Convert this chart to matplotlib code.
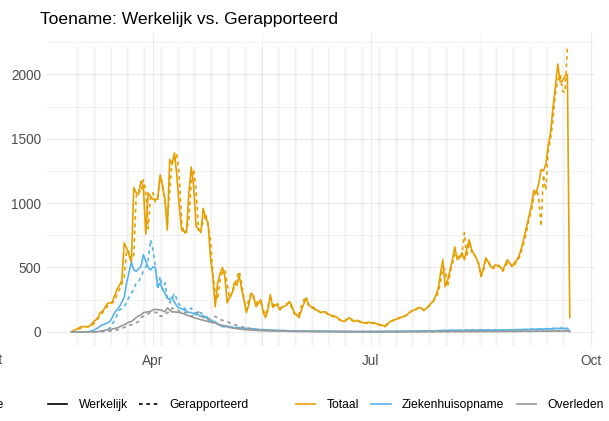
import pandas as pd
import matplotlib
matplotlib.use('Agg')
import matplotlib.pyplot as plt
from matplotlib.lines import Line2D

plt.rcParams['font.family'] = ['Liberation Sans', 'DejaVu Sans']

# daily values from 2020-02-27
start = '2020-02-27'

totaal_werkelijk = [
    2, 10, 20, 30, 40, 40, 40,
    40, 50, 75, 90, 110, 150, 160,
    190, 220, 225, 230, 280, 330, 360,
    400, 690, 650, 600, 540, 1120, 1080,
    1070, 1170, 1130, 760, 1080, 1050, 1030,
    1030, 1030, 1220, 1130, 1030, 790, 1340,
    1300, 1390, 1210, 970, 790, 780, 770,
    1080, 1280, 1130, 820, 800, 770, 960,
    880, 850, 580, 430, 195, 380, 450,
    500, 430, 225, 270, 300, 380, 360,
    440, 330, 250, 150, 210, 300, 280,
    195, 220, 250, 150, 110, 170, 290,
    190, 210, 205, 170, 195, 200, 210,
    235, 200, 150, 130, 110, 170, 220,
    265, 210, 195, 190, 170, 165, 150,
    155, 155, 140, 130, 125, 120, 110,
    90, 85, 80, 95, 110, 95, 80,
    90, 80, 75, 70, 70, 75, 70,
    70, 65, 60, 55, 50, 40, 60,
    80, 85, 95, 100, 110, 115, 120,
    130, 150, 160, 170, 175, 190, 185,
    170, 180, 200, 220, 240, 280, 330,
    450, 560, 350, 400, 480, 560, 660,
    560, 580, 615, 560, 640, 715, 640,
    600, 575, 520, 430, 500, 575, 540,
    505, 500, 520, 510, 505, 480, 520,
    560, 530, 510, 540, 560, 600, 660,
    740, 820, 900, 980, 1100, 1080, 1150,
    1260, 1250, 1300, 1450, 1550, 1745, 1900,
    2080, 1940, 1950, 1985, 2000, 110,
]
totaal_gerapporteerd = [
    0, 5, 10, 20, 30, 35, 40,
    40, 45, 55, 80, 100, 130, 150,
    170, 200, 220, 225, 240, 290, 330,
    370, 420, 640, 620, 560, 600, 1050,
    1100, 1080, 1180, 1100, 800, 1050, 1080,
    1010, 1050, 1200, 1160, 1010, 850, 1100,
    1330, 1320, 1380, 1200, 850, 760, 790,
    870, 1170, 1260, 1100, 790, 800, 860,
    920, 820, 720, 450, 300, 250, 400,
    470, 480, 370, 260, 300, 350, 420,
    470, 380, 250, 170, 250, 300, 260,
    220, 240, 230, 170, 130, 200, 260,
    220, 190, 220, 180, 190, 210, 220,
    230, 180, 140, 120, 140, 200, 250,
    250, 200, 190, 180, 165, 160, 150,
    150, 150, 135, 130, 120, 115, 105,
    95, 85, 85, 100, 105, 90, 80,
    85, 85, 75, 70, 65, 75, 70,
    65, 70, 55, 50, 45, 50, 65,
    75, 90, 90, 105, 105, 120, 125,
    130, 140, 165, 165, 180, 185, 190,
    165, 175, 195, 215, 235, 260, 300,
    380, 500, 480, 350, 450, 530, 600,
    610, 560, 600, 770, 580, 700, 620,
    620, 560, 530, 430, 480, 560, 550,
    510, 490, 510, 520, 500, 470, 500,
    540, 540, 500, 520, 550, 580, 640,
    700, 780, 880, 940, 1050, 1100, 1050,
    820, 1220, 1100, 1400, 1500, 1650, 1850,
    1950, 2000, 1870, 1860, 2210,
]
ziekenhuis_werkelijk = [
    0, 0, 0, 0, 0, 0, 0,
    0, 5, 10, 20, 30, 45, 55,
    60, 70, 80, 110, 150, 170, 195,
    230, 270, 380, 460, 540, 480, 470,
    490, 505, 600, 550, 500, 480, 505,
    500, 350, 380, 330, 300, 260, 250,
    270, 230, 200, 185, 180, 170, 160,
    150, 150, 140, 150, 130, 120, 125,
    110, 100, 80, 70, 80, 60, 50,
    40, 40, 45, 40, 35, 30, 35,
    30, 30, 25, 28, 22, 20, 25,
    20, 18, 15, 18, 15, 12, 14,
    12, 10, 12, 10, 9, 10, 8,
    8, 7, 8, 6, 7, 5, 6,
    5, 6, 5, 4, 5, 4, 5,
    4, 3, 4, 3, 4, 3, 3,
    3, 2, 3, 2, 3, 2, 2,
    2, 2, 3, 2, 2, 3, 2,
    2, 3, 2, 2, 3, 2, 3,
    3, 2, 3, 4, 3, 4, 3,
    4, 5, 4, 5, 6, 5, 6,
    6, 7, 6, 8, 7, 8, 9,
    10, 9, 11, 10, 12, 11, 12,
    11, 13, 12, 11, 13, 12, 14,
    13, 12, 14, 13, 15, 14, 13,
    14, 13, 15, 14, 13, 15, 14,
    15, 14, 16, 15, 17, 16, 18,
    17, 19, 18, 20, 19, 21, 20,
    22, 21, 23, 22, 24, 23, 25,
    26, 24, 27, 25, 26, 5,
]
ziekenhuis_gerapporteerd = [
    0, 0, 0, 0, 0, 0, 0,
    0, 0, 0, 0, 0, 0, 5,
    10, 15, 30, 60, 90, 130, 170,
    180, 195, 230, 270, 300, 330, 380,
    390, 430, 470, 505, 560, 715, 640,
    505, 330, 430, 330, 380, 270, 225,
    260, 300, 250, 210, 195, 185, 170,
    170, 185, 160, 130, 140, 150, 130,
    120, 110, 80, 90, 70, 60, 55,
    50, 45, 40, 45, 35, 35, 30,
    32, 28, 26, 25, 24, 20, 22,
    20, 17, 16, 17, 14, 13, 14,
    12, 11, 11, 10, 10, 9, 9,
    8, 8, 7, 7, 6, 6, 6,
    5, 5, 5, 5, 4, 4, 4,
    4, 4, 3, 3, 3, 3, 3,
    3, 3, 2, 2, 2, 2, 2,
    2, 2, 2, 2, 2, 2, 2,
    2, 2, 2, 3, 2, 3, 3,
    3, 3, 3, 3, 4, 4, 4,
    4, 4, 5, 5, 5, 6, 6,
    6, 7, 7, 7, 8, 8, 9,
    9, 10, 10, 11, 11, 11, 12,
    12, 12, 12, 13, 13, 13, 13,
    13, 14, 14, 14, 14, 14, 14,
    14, 14, 14, 14, 14, 15, 15,
    15, 15, 16, 16, 17, 17, 18,
    18, 19, 19, 20, 20, 21, 22,
    22, 23, 24, 25, 26, 27, 28,
    28, 29, 30, 30, 31,
]
overleden_werkelijk = [
    0, 0, 0, 0, 0, 0, 0,
    0, 0, 0, 0, 2, 5, 8,
    12, 15, 18, 22, 26, 30, 38,
    48, 55, 65, 75, 80, 95, 110,
    125, 130, 150, 152, 155, 160, 170,
    175, 172, 170, 165, 155, 185, 170,
    155, 155, 152, 150, 145, 140, 130,
    125, 118, 110, 105, 100, 95, 90,
    85, 80, 75, 72, 70, 60, 55,
    50, 45, 40, 35, 30, 28, 25,
    22, 20, 18, 16, 15, 14, 12,
    11, 10, 10, 9, 8, 8, 7,
    7, 6, 6, 5, 5, 5, 4,
    4, 4, 4, 3, 3, 3, 3,
    3, 3, 2, 2, 3, 2, 2,
    2, 2, 2, 1, 2, 2, 1,
    1, 1, 2, 1, 1, 1, 1,
    1, 1, 1, 1, 1, 1, 1,
    1, 1, 1, 1, 1, 1, 1,
    1, 1, 1, 1, 1, 1, 1,
    1, 1, 2, 1, 1, 2, 1,
    2, 1, 2, 2, 1, 2, 2,
    2, 2, 3, 2, 2, 3, 2,
    3, 2, 3, 3, 2, 3, 3,
    3, 3, 2, 3, 3, 3, 3,
    3, 4, 3, 3, 4, 3, 3,
    4, 3, 4, 4, 3, 4, 4,
    4, 5, 4, 5, 4, 5, 5,
    5, 6, 5, 6, 6, 7, 6,
    7, 6, 7, 8, 7, 2,
]
overleden_gerapporteerd = [
    0, 0, 0, 0, 0, 0, 0,
    0, 0, 0, 0, 0, 1, 2,
    2, 4, 6, 8, 10, 15, 20,
    25, 35, 40, 50, 55, 60, 70,
    80, 110, 120, 130, 140, 150, 155,
    150, 150, 120, 125, 130, 150, 155,
    185, 175, 170, 160, 150, 150, 150,
    140, 120, 130, 145, 155, 130, 110,
    100, 95, 100, 110, 120, 105, 95,
    90, 85, 80, 70, 60, 55, 50,
    45, 40, 35, 32, 30, 25, 22,
    20, 18, 16, 15, 13, 12, 11,
    10, 9, 9, 8, 7, 7, 6,
    6, 5, 5, 5, 4, 4, 4,
    4, 3, 3, 3, 3, 2, 3,
    2, 2, 2, 2, 2, 2, 2,
    1, 2, 1, 1, 2, 1, 1,
    1, 1, 1, 1, 1, 1, 1,
    1, 1, 1, 1, 1, 1, 1,
    1, 1, 1, 1, 1, 1, 1,
    1, 1, 1, 2, 1, 1, 2,
    1, 2, 2, 1, 2, 2, 2,
    2, 3, 2, 2, 3, 2, 2,
    3, 3, 2, 3, 3, 2, 3,
    3, 3, 3, 3, 3, 3, 4,
    3, 3, 4, 3, 4, 3, 4,
    4, 4, 3, 4, 4, 4, 5,
    4, 5, 5, 4, 5, 5, 6,
    5, 6, 6, 7, 6, 7, 7,
    7, 8, 7, 8, 9,
]

reeksen = ['Totaal', 'Ziekenhuisopname', 'Overleden']
kleuren = {'Totaal': '#E69F00', 'Ziekenhuisopname': '#56B4E9', 'Overleden': '#999999'}
werkelijk = {'Totaal': totaal_werkelijk, 'Ziekenhuisopname': ziekenhuis_werkelijk,
             'Overleden': overleden_werkelijk}
gerapporteerd = {'Totaal': totaal_gerapporteerd, 'Ziekenhuisopname': ziekenhuis_gerapporteerd,
                 'Overleden': overleden_gerapporteerd}

d_w = pd.date_range(start, periods=len(totaal_werkelijk), freq='D')
d_g = pd.date_range(start, periods=len(totaal_gerapporteerd), freq='D')
ymax = max(max(totaal_werkelijk), max(totaal_gerapporteerd))
ylo = -0.05 * ymax
yhi = ymax * 1.05

fig = plt.figure(figsize=(6.09, 4.21), dpi=100)
ax = fig.add_axes([0.0765, 0.178, 0.900, 0.7435])

# weekend bands
zaterdagen = pd.date_range('2020-02-29', d_w[-1], freq='7D') + pd.Timedelta(hours=12)
ax.bar(zaterdagen, ymax - ylo, bottom=ylo, width=1.2, color='black', alpha=0.04,
       linewidth=0, zorder=1)

for r in reeksen:
    ax.plot(d_w, werkelijk[r], color=kleuren[r], lw=1.2, zorder=3)
    ax.plot(d_g, gerapporteerd[r], color=kleuren[r], lw=1.2, ls=(0, (2.2, 2.2)), zorder=3)

span = d_w[-1] - d_w[0]
ax.set_xlim(d_w[0] - span * 0.05, d_w[-1] + span * 0.05)
ax.set_ylim(ylo, yhi)

ax.set_xticks([pd.Timestamp('2020-04-01'), pd.Timestamp('2020-07-01'), pd.Timestamp('2020-10-01')])
ax.set_xticklabels(['Apr', 'Jul', 'Oct'])
ax.set_xticks([pd.Timestamp('2020-05-16 12:00'), pd.Timestamp('2020-08-16')], minor=True)
ax.set_yticks([0, 500, 1000, 1500, 2000])
ax.set_yticks([250, 750, 1250, 1750, 2250], minor=True)

ax.set_axisbelow(True)
ax.grid(which='major', color='#EBEBEB', lw=0.85)
ax.grid(which='minor', color='#EBEBEB', lw=0.45)
for s in ax.spines.values():
    s.set_visible(False)
ax.tick_params(which='both', length=0, labelsize=9.8, labelcolor='#4D4D4D')
ax.tick_params(axis='x', pad=6)
ax.tick_params(axis='y', pad=4)

fig.text(40 / 609, 1 - 24 / 421, 'Toename: Werkelijk vs. Gerapporteerd',
         fontsize=12.6, color='black', va='baseline', ha='left')

# cut-off texts at the figure edge
fig.text(3 / 609, 1 - 360 / 421, 'Oct', fontsize=9.8, color='#4D4D4D', ha='right', va='center')
fig.text(4 / 609, 1 - 405 / 421, 'Type', fontsize=8.7, color='black', ha='right', va='center')

ly = 1 - 405 / 421
h_lt = [Line2D([], [], color='black', lw=1.2),
        Line2D([], [], color='black', lw=1.2, ls=(0, (2.2, 2.2)))]
leg1 = fig.legend(h_lt, ['Werkelijk', 'Gerapporteerd'], loc='center left',
                  bbox_to_anchor=(48 / 609, ly), ncol=2, frameon=False, fontsize=8.7,
                  handlelength=1.6, handletextpad=0.95, columnspacing=0.9,
                  borderpad=0, borderaxespad=0)
h_col = [Line2D([], [], color=kleuren[r], lw=1.2) for r in reeksen]
leg2 = fig.legend(h_col, reeksen, loc='center left',
                  bbox_to_anchor=(296 / 609, ly), ncol=3, frameon=False, fontsize=8.7,
                  handlelength=1.6, handletextpad=0.95, columnspacing=1.0,
                  borderpad=0, borderaxespad=0)

fig.savefig('out.png', dpi=100)
